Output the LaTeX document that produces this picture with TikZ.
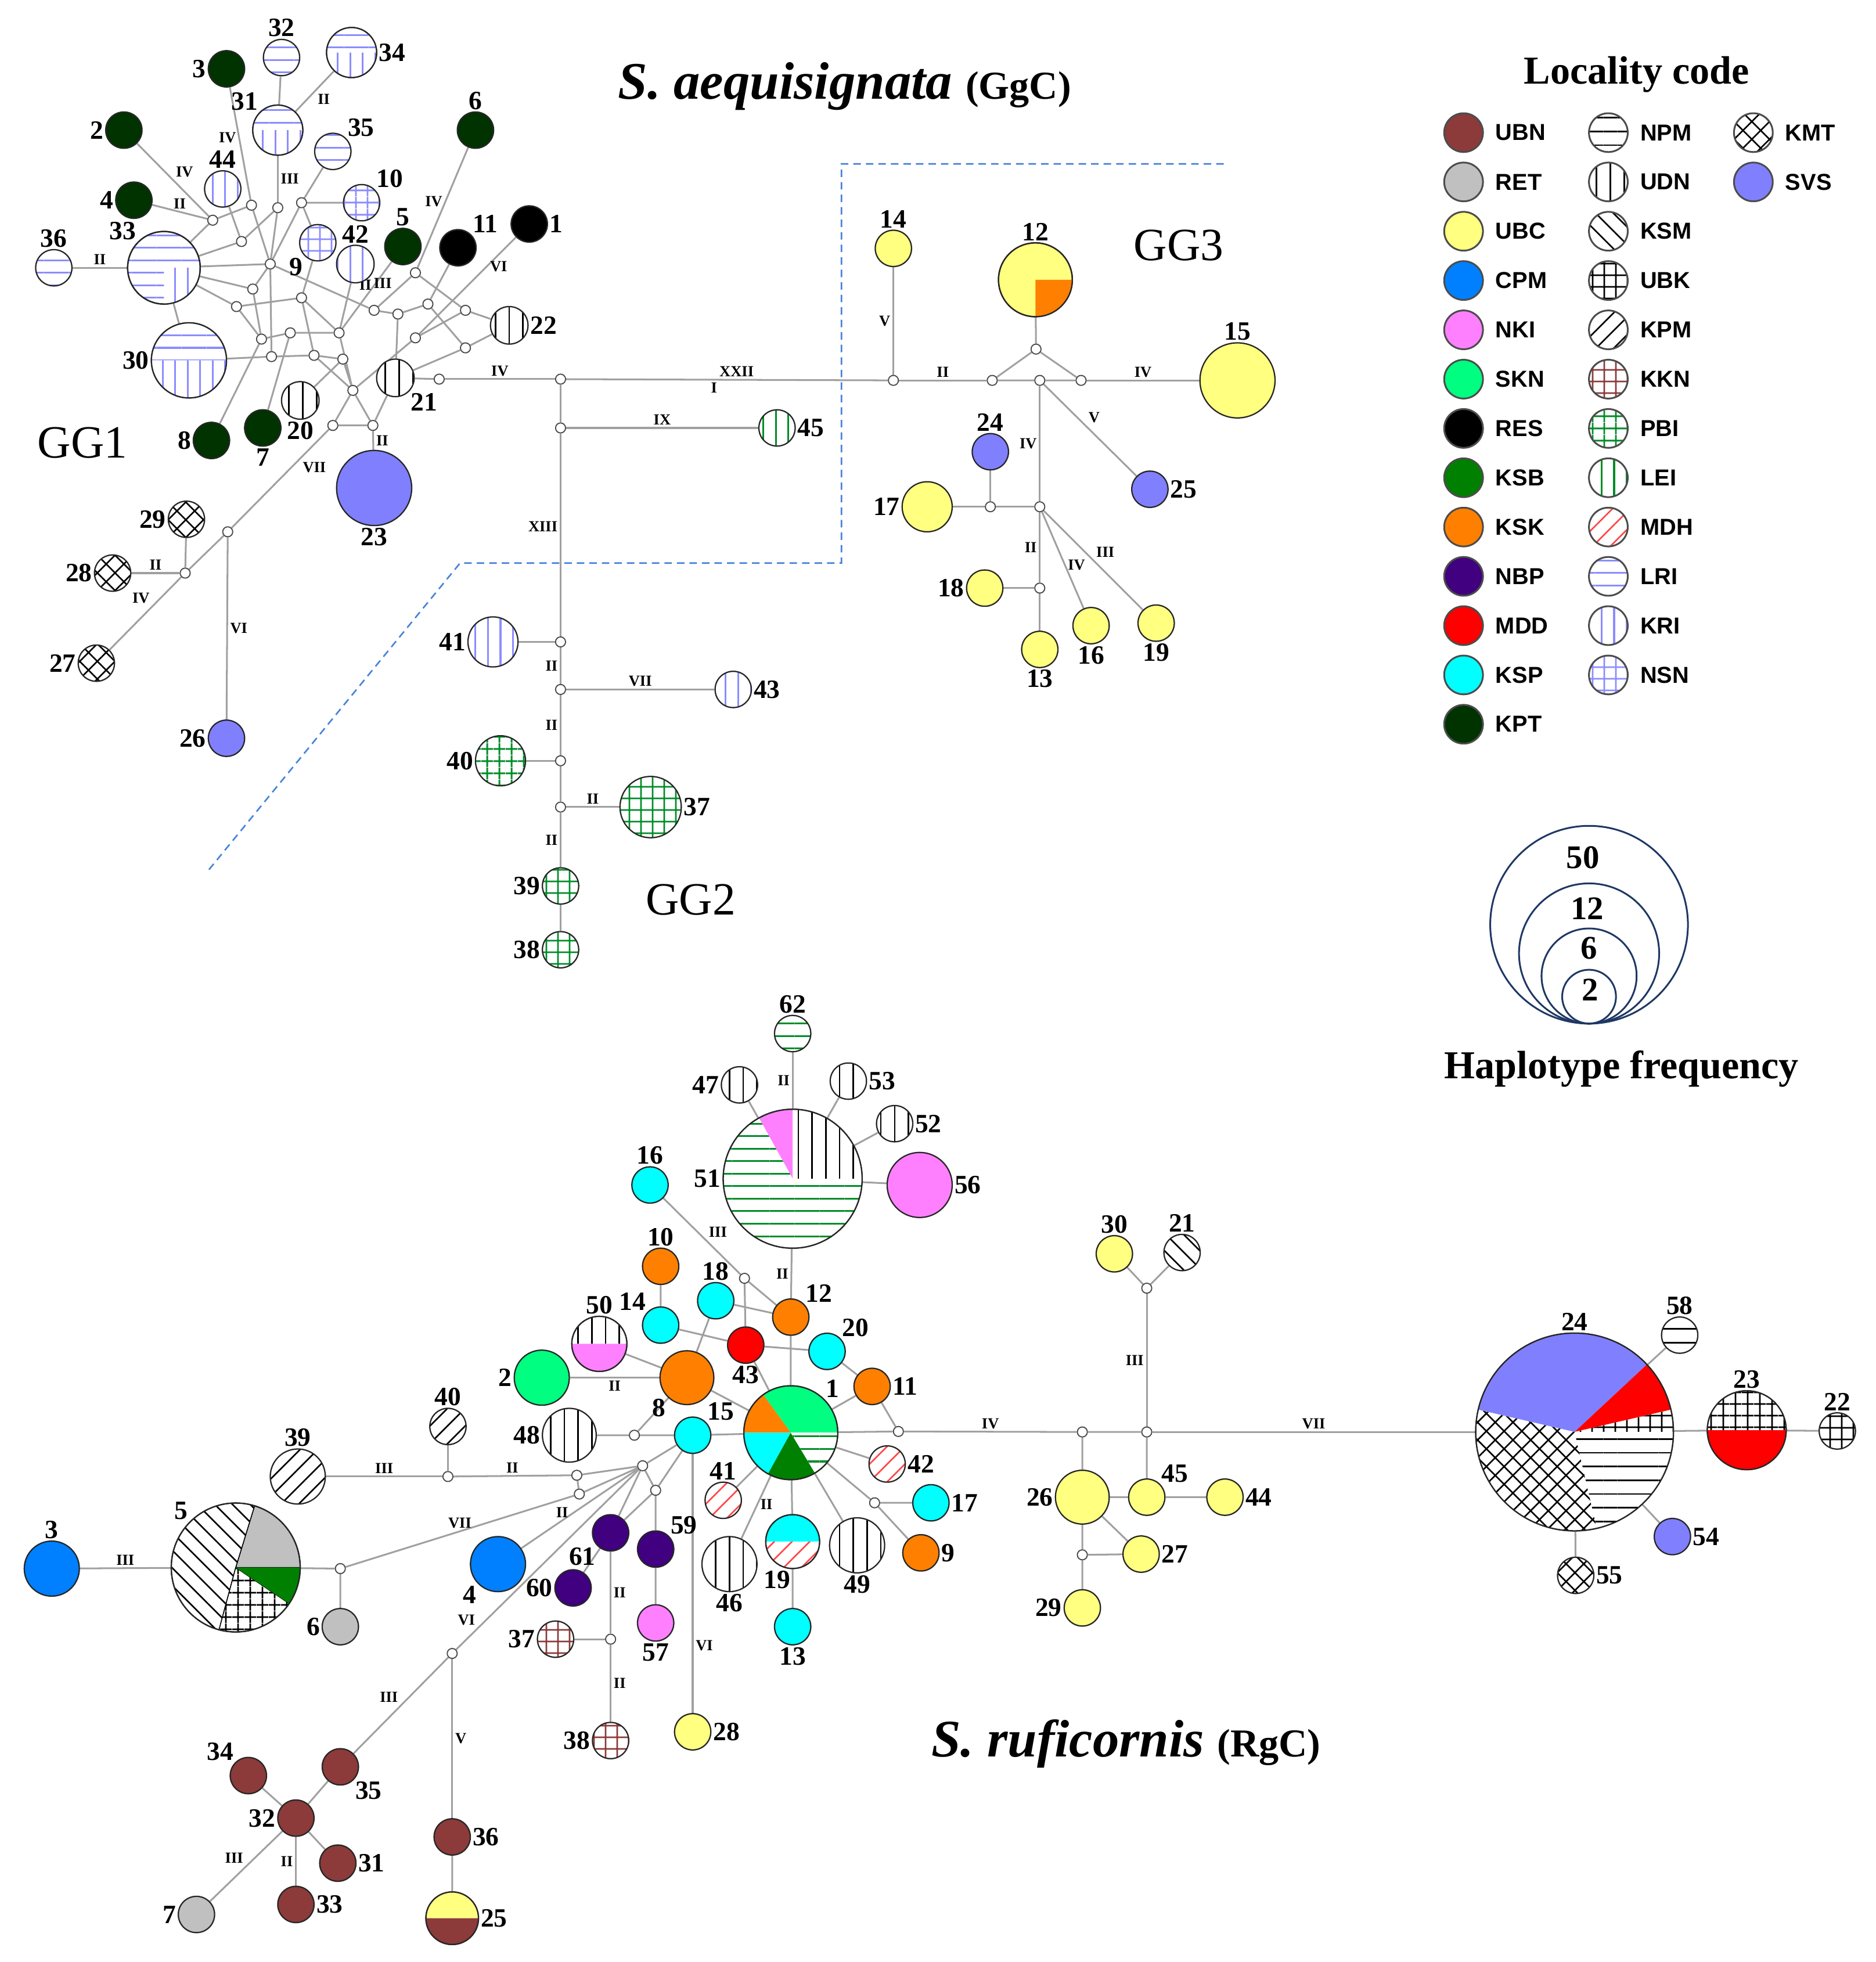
\documentclass[tikz,border=0pt]{standalone}
\usepackage{fontspec}
\setmainfont{Liberation Serif}
\setsansfont{Liberation Sans}
\usetikzlibrary{calc,patterns.meta,backgrounds}
\definecolor{cUBN}{RGB}{140,58,58}
\definecolor{cRET}{RGB}{192,192,192}
\definecolor{cUBC}{RGB}{255,255,128}
\definecolor{cCPM}{RGB}{0,128,255}
\definecolor{cNKI}{RGB}{255,128,255}
\definecolor{cSKN}{RGB}{0,255,128}
\definecolor{cKSB}{RGB}{0,128,0}
\definecolor{cKSK}{RGB}{255,128,0}
\definecolor{cNBP}{RGB}{64,0,128}
\definecolor{cMDD}{RGB}{255,0,0}
\definecolor{cKSP}{RGB}{0,255,255}
\definecolor{cKPT}{RGB}{0,51,0}
\definecolor{cSVS}{RGB}{128,128,255}
\definecolor{cBlu}{RGB}{140,140,255}
\definecolor{cGrn}{RGB}{0,140,40}
\definecolor{cRedL}{RGB}{255,70,70}
\definecolor{cBrn}{RGB}{140,58,58}
\definecolor{cZone}{RGB}{70,130,220}
\definecolor{cFreq}{RGB}{31,56,100}
\definecolor{cLink}{RGB}{160,160,160}
\newcommand{\numfont}{\fontsize{12}{12}\selectfont\bfseries}
\newcommand{\rnfont}{\fontsize{7}{7}\selectfont\bfseries}
\newcommand{\legfont}{\fontsize{10.5}{10.5}\selectfont\sffamily\bfseries}
\newcommand{\headfont}{\fontsize{18}{18}\selectfont\bfseries}
\newcommand{\freqfont}{\fontsize{15}{15}\selectfont\bfseries}
\newcommand{\ggfont}{\fontsize{21}{21}\selectfont}
\newcommand{\spfont}{\fontsize{24}{24}\selectfont\bfseries\itshape}
\newcommand{\codefont}{\fontsize{18}{18}\selectfont\bfseries\upshape}
\newcommand{\hapslice}[5]{\path[#5] (#1.center) -- ++(#2:#4) arc[start angle=#2, end angle=#3, radius=#4] -- cycle;}
\newcommand{\hapring}[2]{\draw[black!85, line width=.6pt] (#1.center) circle[radius=#2];}
\tikzset{
  hap/.style={circle, draw=black!85, line width=.6pt, inner sep=0pt, minimum size=5.8mm},
  mvec/.style={circle, draw=black!70, fill=white, line width=.5pt, inner sep=0pt, minimum size=1.6mm},
  link/.style={draw=cLink, line width=.8pt},
  rn/.style={font=\rnfont, inner sep=1pt},
  every label/.style={font=\numfont, inner sep=.6pt},
  key/.style={hap, draw=black!70, line width=.8pt, minimum size=6.2mm},
  leg/.style={font=\legfont, xshift=1.6mm},
  freq/.style={circle, draw=cFreq, line width=.8pt, inner sep=0pt},
  zone/.style={draw=cZone, line width=.7pt, dash pattern=on 1.2mm off .8mm},
  ubn/.style={fill=cUBN}, ret/.style={fill=cRET}, ubc/.style={fill=cUBC},
  cpm/.style={fill=cCPM}, nki/.style={fill=cNKI}, skn/.style={fill=cSKN},
  res/.style={fill=black}, ksb/.style={fill=cKSB}, ksk/.style={fill=cKSK},
  nbp/.style={fill=cNBP}, mdd/.style={fill=cMDD}, ksp/.style={fill=cKSP},
  kpt/.style={fill=cKPT}, svs/.style={fill=cSVS},
  npm/.style={preaction={fill=white}, pattern={Lines[angle=0,distance=2.2mm,line width=.7pt]}, pattern color=black},
  udn/.style={preaction={fill=white}, pattern={Lines[angle=90,distance=2.2mm,line width=.7pt]}, pattern color=black},
  ksm/.style={preaction={fill=white}, pattern={Lines[angle=-45,distance=2mm,line width=.7pt]}, pattern color=black},
  ubk/.style={preaction={fill=white}, pattern={Hatch[angle=0,distance=1.9mm,line width=.7pt]}, pattern color=black},
  kpm/.style={preaction={fill=white}, pattern={Lines[angle=45,distance=2mm,line width=.7pt]}, pattern color=black},
  kkn/.style={preaction={fill=white}, pattern={Hatch[angle=0,distance=1.9mm,line width=.7pt]}, pattern color=cBrn},
  pbi/.style={preaction={fill=white}, pattern={Hatch[angle=0,distance=1.9mm,line width=.8pt]}, pattern color=cGrn},
  lei/.style={preaction={fill=white}, pattern={Lines[angle=90,distance=2mm,line width=.8pt]}, pattern color=cGrn},
  mdh/.style={preaction={fill=white}, pattern={Lines[angle=45,distance=2mm,line width=.7pt]}, pattern color=cRedL},
  lri/.style={preaction={fill=white}, pattern={Lines[angle=0,distance=2mm,line width=.8pt]}, pattern color=cBlu},
  kri/.style={preaction={fill=white}, pattern={Lines[angle=90,distance=2mm,line width=.8pt]}, pattern color=cBlu},
  nsn/.style={preaction={fill=white}, pattern={Hatch[angle=0,distance=1.9mm,line width=.8pt]}, pattern color=cBlu},
  kmt/.style={preaction={fill=white}, pattern={Hatch[angle=45,distance=2mm,line width=.7pt]}, pattern color=black},
  grl/.style={preaction={fill=white}, pattern={Lines[angle=0,distance=2mm,line width=.8pt]}, pattern color=cGrn}
}
\begin{document}
\begin{tikzpicture}[x=0.2mm, y=0.2mm]
\useasboundingbox (0,0) rectangle (1499,-1568);

\node[anchor=base] (ttl1) at (675,-79) {\spfont S. aequisignata \codefont(GgC)};
\node[anchor=base] (ttl2) at (900,-1404) {\spfont S. ruficornis \codefont(RgC)};
\node[font=\ggfont] (gg1) at (66,-354) {GG1};
\node[font=\ggfont] (gg2) at (552,-719) {GG2};
\node[font=\ggfont] (gg3) at (942,-196) {GG3};
\draw[zone] (167,-695) -- (367.7,-450) -- (672.5,-450) -- (672.5,-131) -- (978,-131);

\node[hap, lri, label=above:32] (a32) at (225,-46) {};
\node[hap, minimum size=8mm, label=above left:31] (a31) at (222,-104) {};
\node[hap, minimum size=8mm, label=right:34] (a34) at (281,-42) {};
\node[hap, kpt, label=left:3] (a3) at (181,-55) {};
\node[hap, kpt, label=left:2] (a2) at (99,-104) {};
\node[hap, lri, label=above right:35] (a35) at (266,-121) {};
\node[hap, kri, label=above:44] (a44) at (178,-151) {};
\node[hap, kpt, label=left:4] (a4) at (107,-160) {};
\node[hap, nsn, label=above right:10] (a10) at (289,-162) {};
\node[hap, kpt, label=above:6] (a6) at (380,-104) {};
\node[hap, lri, label=above:36] (a36) at (43,-214) {};
\node[hap, lri, minimum size=11.6mm, label=above left:33] (a33) at (131,-214) {};
\node[hap, nsn, label=below left:9] (a9) at (254,-194) {};
\node[hap, kri, minimum size=6mm, label=above:42] (a42) at (284,-211) {};
\node[hap, kpt, label=above:5] (a5) at (322,-197) {};
\node[hap, res, label=above right:11] (a11) at (366,-198) {};
\node[hap, res, label=right:1] (a1) at (423,-179) {};
\node[hap, udn, minimum size=6mm, label=right:22] (a22) at (407,-260) {};
\node[hap, minimum size=12mm, label=left:30] (a30) at (151,-288) {};
\node[hap, udn, minimum size=6mm, label=below right:21] (a21) at (316,-302) {};
\node[hap, udn, minimum size=6mm, label=below:20] (a20) at (240,-320) {};
\node[hap, kpt, label=left:8] (a8) at (169,-352) {};
\node[hap, kpt, label=below:7] (a7) at (210,-342) {};
\node[hap, svs, minimum size=12mm, label=below:23] (a23) at (299,-390) {};
\node[hap, kmt, label=left:29] (a29) at (149,-415) {};
\node[hap, kmt, label=left:28] (a28) at (90,-458) {};
\node[hap, kmt, label=left:27] (a27) at (77,-530) {};
\node[hap, svs, label=left:26] (a26) at (181,-590) {};

\node[hap, lei, label=right:45] (a45) at (621,-342) {};
\node[hap, kri, minimum size=8mm, label=left:41] (a41) at (394,-513) {};
\node[hap, kri, label=right:43] (a43) at (586,-551) {};
\node[hap, pbi, minimum size=8mm, label=left:40] (a40) at (400,-608) {};
\node[hap, pbi, minimum size=9.8mm, label=right:37] (a37) at (520,-645) {};
\node[hap, pbi, label=left:39] (a39) at (448,-708) {};
\node[hap, pbi, label=left:38] (a38) at (448,-759) {};

\node[hap, ubc, label=above:14] (a14) at (714,-198.5) {};
\node[hap, ubc, minimum size=11.8mm, label=above:12] (a12) at (827.5,-223.6) {};
\node[hap, ubc, minimum size=12mm, label=above:15] (a15) at (989,-304) {};
\node[hap, svs, label=above:24] (a24) at (791.5,-361) {};
\node[hap, svs, label=right:25] (a25) at (919,-391) {};
\node[hap, ubc, minimum size=8mm, label=left:17] (a17) at (741,-405) {};
\node[hap, ubc, label=left:18] (a18) at (787,-470) {};
\node[hap, ubc, label=below:13] (a13) at (831,-519) {};
\node[hap, ubc, label=below:16] (a16) at (872,-500) {};
\node[hap, ubc, label=below:19] (a19) at (924,-498) {};

\foreach \n/\x/\y in {ma/170/176, mb/201/164, mc/222/166, md/241/162, me/193/193, mf/216/211,
  mg/202/231, mh/241/238, mi/189/245, mj/332/218, mk/299/248, ml/318/251, mm/342/243,
  mn/372/248, mo/271/266, mp/232/266, mq/209/271, mr/332/270, ms/372/278, mt/217/285,
  mu/251/284, mv/274/287, mw/282/312, mx/351/303, my/266/340, mz/298/340, mb1/182/425,
  mb2/148/458, hA/448/303, b1/448/342, b2/448/513, b3/448/551, b4/448/608, b5/448/645,
  c1/714/304, c2/793/304, c3/828/279, c4/831/304, c5/864/304, c6/791.5/405, c7/831/405, c8/831/470}
  \node[mvec] (\n) at (\x,-\y) {};

\hapslice{a31}{0}{180}{4mm}{lri}
\hapslice{a31}{180}{360}{4mm}{kri}
\hapring{a31}{4mm}
\hapslice{a34}{0}{180}{4mm}{lri}
\hapslice{a34}{180}{360}{4mm}{kri}
\hapring{a34}{4mm}
\hapslice{a30}{0}{180}{6mm}{lri}
\hapslice{a30}{180}{360}{6mm}{kri}
\hapring{a30}{6mm}
\hapslice{a33}{270}{360}{5.8mm}{kri}
\hapring{a33}{5.8mm}
\hapslice{a12}{270}{360}{5.9mm}{ksk}
\hapring{a12}{5.9mm}

\begin{scope}[on background layer]
\draw[link] (a32) -- (a31);
\draw[link] (a34) -- node[rn, below right] {II} (a31);
\draw[link] (a31) -- node[rn, right] {III} (mc);
\draw[link] (a3) -- node[rn, left, pos=.45] {IV} (mb);
\draw[link] (a2) -- node[rn, above right] {IV} (ma);
\draw[link] (a4) -- node[rn, above] {II} (ma);
\draw[link] (a36) -- node[rn, above] {II} (a33);
\draw[link] (a6) -- node[rn, left, pos=.45] {IV} (mj);
\draw[link] (a5) -- node[rn, left, pos=.35] {II} (mo);
\draw[link] (mj) -- node[rn, above left] {III} (mk);
\draw[link] (a1) -- node[rn, right, pos=.3] {VI} (mr);
\draw[link] (mc) -- (mf) -- (mt) (ma) -- (mb) (ma) -- (a33) (a44) -- (me) (mb) -- (mf) (me) -- (a33) (me) -- (mc);
\draw[link] (md) -- (a10) (md) -- (a35) (md) -- (a9) (md) -- (mf) (a33) -- (mf) (a33) -- (mg) (a33) -- (mi) (a33) -- (a30) (a30) -- (mt);
\draw[link] (mt) -- (mu) -- (mv) (mf) -- (mg) -- (mq) (mi) -- (mq) (mi) -- (mh) -- (a9) (mh) -- (mu) (mq) -- (mp) -- (mo) (mf) -- (mk);
\draw[link] (a11) -- (mm) -- (ml) -- (mk) (ml) -- (a21) (mm) -- (ms) -- (a22) (mj) -- (mn) -- (a22) (mn) -- (mr) -- (mw) (ms) -- (a21);
\draw[link] (mh) -- (mo) (a42) -- (mo) -- (mw) (mu) -- (mw) (mv) -- (mw) (mw) -- (my) (mw) -- (mz) (my) -- (mz) (mz) -- (a21);
\draw[link] (a8) -- (mq) (a7) -- (mp) (a20) -- (mv);
\draw[link] (mz) -- node[rn, right] {II} (a23);
\draw[link] (my) -- node[rn, below right, pos=.3] {VII} (mb1);
\draw[link] (mb1) -- (mb2) (mb2) -- (a29);
\draw[link] (mb1) -- node[rn, right] {VI} (a26);
\draw[link] (mb2) -- node[rn, above] {II} (a28);
\draw[link] (mb2) -- node[rn, above left, pos=.4] {IV} (a27);
\draw[link] (a21) -- (mx);
\draw[link] (mx) -- node[rn, above] {IV} (hA);
\draw[link] (hA) -- node[rn, above, pos=.53] {XXII} node[rn, below, pos=.46] {I} (c1);
\draw[link] (hA) -- (b1);
\draw[link] (b1) -- node[rn, above] {IX} (a45);
\draw[link] (b1) -- node[rn, left, pos=.46] {XIII} (b2);
\draw[link] (b2) -- (a41);
\draw[link] (b2) -- node[rn, left] {II} (b3);
\draw[link] (b3) -- node[rn, above] {VII} (a43);
\draw[link] (b3) -- node[rn, left] {II} (b4);
\draw[link] (b4) -- (a40) (b4) -- (b5);
\draw[link] (b5) -- node[rn, above] {II} (a37);
\draw[link] (b5) -- node[rn, left] {II} (a39);
\draw[link] (a39) -- (a38);
\draw[link] (c1) -- node[rn, left, pos=.5] {V} (a14);
\draw[link] (c1) -- node[rn, above] {II} (c2);
\draw[link] (c2) -- (c4) -- (c5) (c2) -- (c3) -- (c5) (c3) -- (a12);
\draw[link] (c5) -- node[rn, above] {IV} (a15);
\draw[link] (c4) -- node[rn, left] {IV} (c7);
\draw[link] (c4) -- node[rn, above right, pos=.45] {V} (a25);
\draw[link] (c7) -- (c6) -- (a17) (c6) -- (a24);
\draw[link] (c7) -- node[rn, left] {II} (c8);
\draw[link] (c8) -- (a18) (c8) -- (a13);
\draw[link] (c7) -- node[rn, right, pos=.55] {IV} (a16);
\draw[link] (c7) -- node[rn, above right, pos=.5] {III} (a19);
\end{scope}

\node[hap, grl, label=above:62] (r62) at (633.5,-826) {};
\node[hap, minimum size=22.2mm, label=left:51] (r51) at (633.5,-942) {};
\node[hap, udn, label=left:47] (r47) at (591,-867) {};
\node[hap, udn, label=right:53] (r53) at (678,-864) {};
\node[hap, udn, label=right:52] (r52) at (715,-898) {};
\node[hap, nki, minimum size=10.4mm, label=right:56] (r56) at (735,-947) {};
\node[hap, ksp, label=above:16] (r16) at (519.5,-947) {};
\node[hap, ksk, label=above:10] (r10) at (528,-1012) {};
\node[hap, ksp, label=above:18] (r18) at (572,-1039.5) {};
\node[hap, ksk, label=above right:12] (r12) at (632,-1052.6) {};
\node[hap, ksp, label=above left:14] (r14) at (528,-1059) {};
\node[hap, mdd, label=below:43] (r43) at (596,-1075) {};
\node[hap, ksp, label=above right:20] (r20) at (661,-1080) {};
\node[hap, minimum size=8.8mm, label=above:50] (r50) at (479,-1074) {};
\node[hap, ksk, minimum size=8.6mm, label=below left:8] (r8) at (549,-1101) {};
\node[hap, skn, minimum size=8.8mm, label=left:2] (r2) at (433,-1101) {};
\node[hap, ksk, label=right:11] (r11) at (697,-1108) {};
\node[hap, minimum size=15mm, label=above right:1] (r1) at (632,-1145) {};
\node[hap, ksp, label=above right:15] (r15) at (553.6,-1147) {};
\node[hap, udn, minimum size=8.6mm, label=left:48] (r48) at (455,-1147) {};
\node[hap, mdh, label=right:42] (r42) at (709,-1170) {};
\node[hap, ksp, label=right:17] (r17) at (744,-1201) {};
\node[hap, ksk, label=right:9] (r9) at (736,-1241) {};
\node[hap, udn, minimum size=8.8mm, label=below:49] (r49) at (685,-1235) {};
\node[hap, minimum size=8.6mm, label={[xshift=-2.5mm]below:19}] (r19) at (633.5,-1232) {};
\node[hap, udn, minimum size=8.8mm, label=below:46] (r46) at (583,-1250) {};
\node[hap, mdh, label=above:41] (r41) at (578,-1199) {};
\node[hap, cpm, minimum size=8.8mm, label=below left:4] (r4) at (398,-1250) {};
\node[hap, nbp, label=below left:61] (r61) at (488,-1225) {};
\node[hap, nbp, label=above right:59] (r59) at (524,-1238) {};
\node[hap, nbp, label=left:60] (r60) at (458,-1269) {};
\node[hap, nki, label=below:57] (r57) at (524,-1297) {};
\node[hap, kkn, label=left:37] (r37) at (444,-1310) {};
\node[hap, kkn, label=left:38] (r38) at (488,-1391) {};
\node[hap, ubc, label=right:28] (r28) at (553.6,-1384) {};
\node[hap, ksp, label=below:13] (r13) at (633.5,-1300) {};
\node[hap, kpm, label=above:40] (r40) at (358,-1140) {};
\node[hap, kpm, minimum size=8.8mm, label=above:39] (r39) at (238,-1180) {};
\node[hap, minimum size=20.6mm, label=above left:5] (r5) at (188.4,-1252.7) {};
\node[hap, cpm, minimum size=8.8mm, label=above:3] (r3) at (41.4,-1253.6) {};
\node[hap, ret, label=left:6] (r6) at (272,-1300) {};
\node[hap, ubn, label=below right:35] (r35) at (272,-1412) {};
\node[hap, ubn, label=above left:34] (r34) at (198.5,-1419) {};
\node[hap, ubn, label=left:32] (r32) at (236.5,-1453) {};
\node[hap, ubn, label=right:31] (r31) at (270,-1489) {};
\node[hap, ubn, label=right:33] (r33) at (236.5,-1522) {};
\node[hap, ret, label=left:7] (r7) at (157,-1530) {};
\node[hap, ubn, label=right:36] (r36) at (361.4,-1468) {};
\node[hap, minimum size=8.4mm, label=right:25] (r25) at (361.4,-1533) {};
\node[hap, ubc, label=above:30] (r30) at (890.6,-1002) {};
\node[hap, ksm, label=above:21] (r21) at (944.7,-1001) {};
\node[hap, minimum size=31.6mm, label=above:24] (r24) at (1258.4,-1144.4) {};
\node[hap, npm, label=above:58] (r58) at (1342.4,-1067) {};
\node[hap, minimum size=12.6mm, label=above:23] (r23) at (1396,-1143) {};
\node[hap, ubk, label=above:22] (r22) at (1468.4,-1143.6) {};
\node[hap, svs, label=right:54] (r54) at (1336.6,-1228) {};
\node[hap, kmt, label=right:55] (r55) at (1259.3,-1259) {};
\node[hap, ubc, minimum size=8.6mm, label=left:26] (r26) at (865,-1196.5) {};
\node[hap, ubc, label=above right:45] (r45) at (916.5,-1196.5) {};
\node[hap, ubc, label=right:44] (r44) at (979,-1196.5) {};
\node[hap, ubc, label=right:27] (r27) at (912,-1242) {};
\node[hap, ubc, label=left:29] (r29) at (865,-1285) {};

\foreach \n/\x/\y in {q1/595/1021.6, q2/507/1147, q3/718/1144, q4/699/1201, q5/513.6/1171.4,
  q6/461/1179, q7/463/1194, q8/524/1191, q9/488/1310, q10/358/1180, q11/272/1253.6,
  q12/361.4/1321.4, q13/865/1144.4, q14/916.5/1144.4, q15/916.5/1029.5, q16/865/1242.6}
  \node[mvec] (\n) at (\x,-\y) {};

\hapslice{r51}{0}{90}{11.1mm}{udn}
\hapslice{r51}{90}{119}{11.1mm}{nki}
\hapslice{r51}{119}{360}{11.1mm}{grl}
\hapring{r51}{11.1mm}
\hapslice{r50}{0}{180}{4.4mm}{udn}
\hapslice{r50}{180}{360}{4.4mm}{nki}
\hapring{r50}{4.4mm}
\hapslice{r1}{0}{126}{7.5mm}{skn}
\hapslice{r1}{126}{180}{7.5mm}{ksk}
\hapslice{r1}{180}{241}{7.5mm}{ksp}
\hapslice{r1}{241}{301}{7.5mm}{ksb}
\hapslice{r1}{301}{360}{7.5mm}{grl}
\hapring{r1}{7.5mm}
\hapslice{r19}{0}{180}{4.3mm}{ksp}
\hapslice{r19}{180}{360}{4.3mm}{mdh}
\hapring{r19}{4.3mm}
\hapslice{r5}{0}{73}{10.3mm}{ret, draw=black}
\hapslice{r5}{73}{255}{10.3mm}{ksm, draw=black}
\hapslice{r5}{255}{326}{10.3mm}{ubk, draw=black}
\hapslice{r5}{326}{360}{10.3mm}{ksb}
\hapring{r5}{10.3mm}
\hapslice{r25}{0}{180}{4.2mm}{ubc}
\hapslice{r25}{180}{360}{4.2mm}{ubn}
\hapring{r25}{4.2mm}
\hapslice{r24}{43}{167}{15.8mm}{svs}
\hapslice{r24}{13}{43}{15.8mm}{mdd}
\hapslice{r24}{0}{13}{15.8mm}{ubk}
\hapslice{r24}{167}{283}{15.8mm}{kmt}
\hapslice{r24}{283}{360}{15.8mm}{npm}
\hapring{r24}{15.8mm}
\hapslice{r23}{0}{180}{6.3mm}{ubk}
\hapslice{r23}{180}{360}{6.3mm}{mdd}
\hapring{r23}{6.3mm}

\begin{scope}[on background layer]
\draw[link] (r62) -- node[rn, left] {II} (r51);
\draw[link] (r51) -- (r47) (r51) -- (r53) (r51) -- (r52) (r51) -- (r56);
\draw[link] (r16) -- node[rn, above right, pos=.55] {III} (q1);
\draw[link] (q1) -- (r12) (q1) -- (r43);
\draw[link] (r12) -- node[rn, left] {II} (r51);
\draw[link] (r12) -- (r18) (r12) -- (r1) (r10) -- (r14) -- (r43) -- (r20) (r43) -- (r1);
\draw[link] (r8) -- (r18) (r8) -- (r50) (r8) -- (r1) (r8) -- (q2);
\draw[link] (r8) -- node[rn, below] {II} (r2);
\draw[link] (r48) -- (q2) -- (r15) -- (r1);
\draw[link] (r20) -- (r11) -- (r1) (r11) -- (q3) (r1) -- (q3);
\draw[link] (q3) -- node[rn, above] {IV} (q13);
\draw[link] (r1) -- (r42) (r1) -- (q4) -- (r17) (q4) -- (r9) (r1) -- (r49) (r1) -- (r19) -- (r13) (r1) -- (r41);
\draw[link] (r1) -- node[rn, right, pos=.45] {II} (r46);
\draw[link] (q5) -- (r15) (q5) -- (q6) (q5) -- (q7) (q5) -- (r61) (q5) -- (q8) (q6) -- (q7);
\draw[link] (q8) -- (r15) (q8) -- (r59) -- (r57) (q8) -- (r61) (r61) -- (r60);
\draw[link] (q5) -- node[rn, above, pos=.65] {II} (r4);
\draw[link] (q5) -- node[rn, above left, pos=.88] {VI} (q12);
\draw[link] (r61) -- node[rn, right] {II} (q9);
\draw[link] (q9) -- (r37);
\draw[link] (q9) -- node[rn, right] {II} (r38);
\draw[link] (r15) -- node[rn, right, pos=.74] {VI} (r28);
\draw[link] (q6) -- node[rn, above] {II} (q10);
\draw[link] (q10) -- (r40);
\draw[link] (q10) -- node[rn, above] {III} (r39);
\draw[link] (q7) -- node[rn, above] {VII} (q11);
\draw[link] (q11) -- (r5) (q11) -- (r6);
\draw[link] (r3) -- node[rn, above] {III} (r5);
\draw[link] (q12) -- node[rn, above left] {III} (r35);
\draw[link] (q12) -- node[rn, right] {V} (r36);
\draw[link] (r35) -- (r32) (r34) -- (r32) (r32) -- (r31) (r36) -- (r25);
\draw[link] (r32) -- node[rn, left] {II} (r33);
\draw[link] (r32) -- node[rn, above left] {III} (r7);
\draw[link] (q13) -- (q14) (q13) -- (r26) (q14) -- (r45) (r26) -- (r45) -- (r44) (r26) -- (r27) (r26) -- (q16) -- (r27) (q16) -- (r29);
\draw[link] (q14) -- node[rn, above] {VII} (r24);
\draw[link] (q14) -- node[rn, left] {III} (q15);
\draw[link] (q15) -- (r30) (q15) -- (r21);
\draw[link] (r24) -- (r58) (r24) -- (r23) -- (r22) (r24) -- (r54) (r24) -- (r55);
\end{scope}

\node[anchor=base, font=\headfont] (loctitle) at (1308,-67) {Locality code};
\foreach \c/\s [count=\i from 0] in {UBN/ubn,RET/ret,UBC/ubc,CPM/cpm,NKI/nki,SKN/skn,RES/res,KSB/ksb,KSK/ksk,NBP/nbp,MDD/mdd,KSP/ksp,KPT/kpt}
  \node[key, \s, label={[leg]right:\c}] (k\c) at (1169.7,{-106-39.4*\i}) {};
\foreach \c/\s [count=\i from 0] in {NPM/npm,UDN/udn,KSM/ksm,UBK/ubk,KPM/kpm,KKN/kkn,PBI/pbi,LEI/lei,MDH/mdh,LRI/lri,KRI/kri,NSN/nsn}
  \node[key, \s, label={[leg]right:\c}] (k\c) at (1285.4,{-106-39.4*\i}) {};
\foreach \c/\s [count=\i from 0] in {KMT/kmt,SVS/svs}
  \node[key, \s, label={[leg]right:\c}] (k\c) at (1401.3,{-106-39.4*\i}) {};

\node[freq, minimum size=31.6mm] (f50) at (1270,-739) {};
\node[freq, minimum size=22.4mm] (f12) at (1270,-762) {};
\node[freq, minimum size=15.2mm] (f6) at (1270,-780) {};
\node[freq, minimum size=8.6mm] (f2) at (1270,-796.5) {};
\node[font=\freqfont] (t50) at (1265,-685.5) {50};
\node[font=\freqfont] (t12) at (1268.6,-726) {12};
\node[font=\freqfont] (t6) at (1269.7,-757.6) {6};
\node[font=\freqfont] (t2) at (1270.8,-791) {2};
\node[anchor=base, font=\headfont] (hftitle) at (1296,-862) {Haplotype frequency};
\end{tikzpicture}
\end{document}
